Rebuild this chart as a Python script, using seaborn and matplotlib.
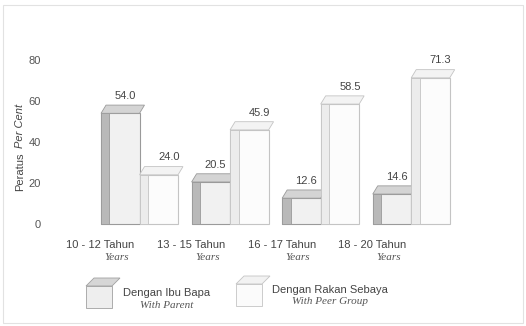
import matplotlib
matplotlib.use("Agg")
import matplotlib.pyplot as plt
import matplotlib.transforms as mtransforms
from matplotlib.patches import Polygon, Rectangle
import seaborn as sns
import pandas as pd

# Age groups, series names and percentages
age_groups = ["10 - 12 Tahun", "13 - 15 Tahun", "16 - 17 Tahun", "18 - 20 Tahun"]
age_sub = ["Years", "Years", "Years", "Years"]
series = ["Dengan Ibu Bapa", "Dengan Rakan Sebaya"]
series_sub = ["With Parent", "With Peer Group"]
with_parent = [54.0, 20.5, 12.6, 14.6]
with_peers = [24.0, 45.9, 58.5, 71.3]
y_ticks = [0, 20, 40, 60, 80]

sns.set_theme(style="white")
plt.rcParams["font.family"] = ["Liberation Sans", "DejaVu Sans"]

df = pd.DataFrame({
    "group": age_groups * 2,
    "series": [series[0]] * 4 + [series[1]] * 4,
    "value": with_parent + with_peers,
})

W, H = 526, 326
fig = plt.figure(figsize=(W / 100, H / 100), dpi=100)
fig.patch.set_facecolor("white")
ax = fig.add_axes([60 / W, (H - 230.15) / H, 440 / W, 190.65 / H])

front = {series[0]: "#f1f1f1", series[1]: "#fcfcfc"}
sns.barplot(data=df, x="group", y="value", hue="series", palette=front,
            width=0.85, gap=0, linewidth=0.8, edgecolor="#a8a8a8",
            legend=False, ax=ax)

ax.set_xlim(-0.878, 3.98)
ax.set_ylim(-3, 90)
ax.set_yticks(y_ticks)
ax.set_yticklabels([str(t) for t in y_ticks], color="#555555", fontsize=8)
ax.tick_params(axis="y", length=0, pad=14)
ax.set_xticks([])
ax.set_xlabel("")
ax.set_ylabel("")
for s in ax.spines.values():
    s.set_visible(False)

# Pseudo-3D shading: darker side strip and a slanted top face on every bar
depth_x, depth_y = 0.055, 4.0
side = ["#b9b9b9", "#ececec"]
top = ["#d4d4d4", "#f3f3f3"]
edges = ["#9a9a9a", "#c4c4c4"]
label_shift = [0.05, 0.11]
for k, cont in enumerate(ax.containers):
    for bar in cont:
        x0, w, h = bar.get_x(), bar.get_width(), bar.get_height()
        bar.set_edgecolor(edges[k])
        ax.add_patch(Rectangle((x0, 0), w * 0.22, h, facecolor=side[k],
                               edgecolor=edges[k], linewidth=0.6, zorder=3))
        ax.add_patch(Polygon([(x0, h), (x0 + w, h),
                              (x0 + w + depth_x, h + depth_y),
                              (x0 + depth_x, h + depth_y)],
                             closed=True, facecolor=top[k],
                             edgecolor=edges[k], linewidth=0.6, zorder=3))
        ax.annotate(f"{h:.1f}", (x0 + w / 2 + label_shift[k], h + depth_y),
                    xytext=(0, 3), textcoords="offset points",
                    ha="center", va="bottom", fontsize=8, color="#444444",
                    zorder=5)

# Category labels under each group
blend = mtransforms.blended_transform_factory(ax.transData, fig.transFigure)
for i, (lab, sub) in enumerate(zip(age_groups, age_sub)):
    ax.text(i - 0.43, (H - 245) / H, lab, transform=blend, ha="center",
            va="center", fontsize=8, color="#444444")
    ax.text(i - 0.25, (H - 258) / H, sub, transform=blend, ha="center",
            va="center", fontsize=8, color="#555555",
            family=["Liberation Serif", "DejaVu Serif"], style="italic")

# Vertical axis title
fig.text(20 / W, (H - 191) / H, "Peratus", rotation=90, ha="center",
         va="bottom", fontsize=8, color="#444444")
fig.text(20 / W, (H - 148) / H, "Per Cent", rotation=90, ha="center",
         va="bottom", fontsize=8, color="#444444", style="italic")

# Legend with small box swatches
def swatch(px, py, face, topc, edge):
    tr = fig.transFigure
    def p(x, y):
        return (x / W, (H - y) / H)
    fig.add_artist(Polygon([p(px, py + 8), p(px + 26, py + 8),
                            p(px + 26, py + 30), p(px, py + 30)],
                           closed=True, transform=tr, facecolor=face,
                           edgecolor=edge, linewidth=0.6))
    fig.add_artist(Polygon([p(px, py + 8), p(px + 26, py + 8),
                            p(px + 34, py), p(px + 8, py)],
                           closed=True, transform=tr, facecolor=topc,
                           edgecolor=edge, linewidth=0.6))

swatch(86, 278, "#eeeeee", "#d6d6d6", "#a0a0a0")
swatch(236, 276, "#fbfbfb", "#f2f2f2", "#c4c4c4")
legend_cx = [167, 330]
legend_y = [293, 290]
for lx, ly, lab, sub in zip(legend_cx, legend_y, series, series_sub):
    fig.text(lx / W, (H - ly) / H, lab, ha="center", va="center",
             fontsize=8, color="#444444")
    fig.text(lx / W, (H - ly - 12) / H, sub,
             ha="center", va="center", fontsize=8, color="#555555",
             family=["Liberation Serif", "DejaVu Serif"], style="italic")

# Thin frame around the page
fig.add_artist(Rectangle((3 / W, 3 / H), (W - 6) / W, (H - 8) / H,
                         transform=fig.transFigure, fill=False,
                         edgecolor="#e2e2e2", linewidth=0.8))

fig.savefig("out.png", dpi=100, facecolor="white")
